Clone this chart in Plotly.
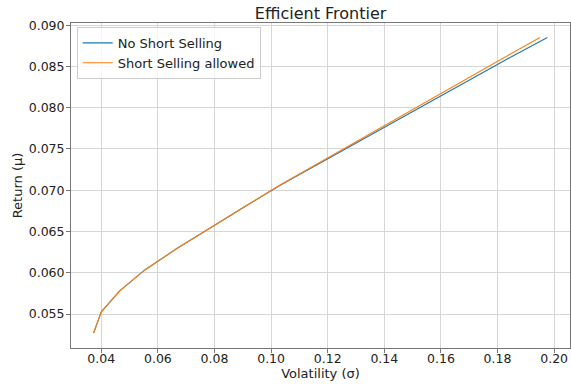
import plotly.graph_objects as go

# Target portfolio returns shared by both frontiers
returns = [0.0527, 0.05526, 0.05781, 0.06037, 0.06293, 0.06549, 0.06804, 0.0706,
           0.07316, 0.07571, 0.07827, 0.08083, 0.08339, 0.08594, 0.0885]

# Minimum volatility for each target return
vol_no_short = [0.0373, 0.0400, 0.0465, 0.0555, 0.0667, 0.0787, 0.0908, 0.1032,
                0.1166, 0.1300, 0.1435, 0.1568, 0.1702, 0.1836, 0.1976]
vol_short = [0.0373, 0.0400, 0.0465, 0.0555, 0.0667, 0.0786, 0.0907, 0.1030,
             0.1161, 0.1290, 0.1420, 0.1550, 0.1681, 0.1816, 0.1950]

x_ticks = [0.04, 0.06, 0.08, 0.10, 0.12, 0.14, 0.16, 0.18, 0.20]
y_ticks = [0.055, 0.060, 0.065, 0.070, 0.075, 0.080, 0.085, 0.090]

FONT = "DejaVu Sans"
TEXT = "#222222"

fig = go.Figure()
fig.add_trace(go.Scatter(x=vol_no_short, y=returns, mode="lines",
                         name="No Short Selling",
                         line=dict(color="#1f77b4", width=1.1)))
fig.add_trace(go.Scatter(x=vol_short, y=returns, mode="lines",
                         name="Short Selling allowed",
                         line=dict(color="#ff7f0e", width=1.1)))

axis_common = dict(
    showgrid=True, gridcolor="#d6d6d6", gridwidth=1,
    showline=True, linecolor="#777777", linewidth=1, mirror=True,
    ticks="outside", ticklen=4, tickcolor="#777777", tickwidth=1,
    zeroline=False,
    tickfont=dict(family=FONT, size=12.5, color=TEXT),
)

fig.update_layout(
    width=571, height=384,
    margin=dict(l=71, r=1, t=23, b=36),
    paper_bgcolor="white", plot_bgcolor="white",
    font=dict(family=FONT, color=TEXT),
    title=dict(text="Efficient Frontier", x=0.5615, xanchor="center",
               y=1 - 13 / 384, yanchor="middle", yref="container",
               font=dict(family=FONT, size=16, color=TEXT)),
    xaxis=dict(axis_common, range=[0.0293, 0.2056], tickvals=x_ticks,
               ticktext=[f"{v:.2f}" for v in x_ticks],
               ticklabelstandoff=-5,
               title=dict(text="Volatility (σ)", standoff=0,
                          font=dict(family=FONT, size=13, color=TEXT))),
    yaxis=dict(axis_common, range=[0.05088, 0.09027], tickvals=y_ticks,
               ticktext=[f"{v:.3f}" for v in y_ticks],
               ticklabelstandoff=-1,
               title=dict(text="Return (μ)", standoff=3,
                          font=dict(family=FONT, size=13, color=TEXT))),
    legend=dict(x=0.0114, y=0.988, xanchor="left", yanchor="top",
                bgcolor="rgba(255,255,255,0.8)", bordercolor="#cccccc",
                borderwidth=1, font=dict(family=FONT, size=13, color=TEXT),
                tracegroupgap=0, itemwidth=30),
    showlegend=True,
)

fig.write_html("out.html")
